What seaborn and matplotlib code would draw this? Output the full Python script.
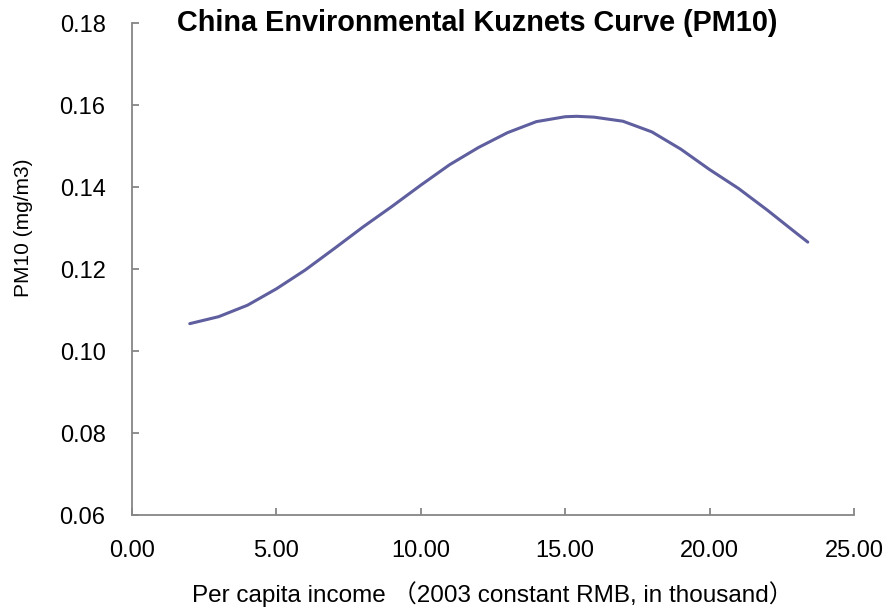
import numpy as np
import pandas as pd
import matplotlib
matplotlib.use('Agg')
import matplotlib.pyplot as plt
import seaborn as sns

# ── data ──
income = [2.0, 3.0, 4.0, 5.0, 6.0, 7.0, 8.0, 9.0, 10.0, 11.0, 12.0, 13.0,
          14.0, 15.0, 15.4, 16.0, 17.0, 18.0, 19.0, 20.0, 21.0, 22.0, 23.0, 23.4]
pm10 = [0.1067, 0.1084, 0.1112, 0.1152, 0.1198, 0.1250, 0.1303, 0.1353,
        0.1405, 0.1455, 0.1497, 0.1533, 0.1560, 0.1572, 0.1573, 0.1571,
        0.1561, 0.1535, 0.1493, 0.1443, 0.1397, 0.1344, 0.1288, 0.1266]
x_ticks = [0, 5, 10, 15, 20, 25]
y_ticks = [0.06, 0.08, 0.10, 0.12, 0.14, 0.16, 0.18]

df = pd.DataFrame({'income': income, 'pm10': pm10})

sns.set_style('ticks')
plt.rcParams['font.family'] = ['Liberation Sans', 'Noto Sans CJK SC', 'DejaVu Sans']
plt.rcParams['text.color'] = 'black'
plt.rcParams['axes.labelcolor'] = 'black'

fig = plt.figure(figsize=(8.83, 6.11), dpi=100)
ax = fig.add_axes([132 / 883, 1 - 515 / 611, 722 / 883, (515 - 23.3) / 611])

sns.lineplot(data=df, x='income', y='pm10', ax=ax, sort=False, estimator=None,
             color='#5F5F9F', linewidth=2.2)

ax.set_xlim(0, 25)
ax.set_ylim(0.06, 0.18)
ax.set_xticks(x_ticks)
ax.set_xticklabels([f'{v:.2f}' for v in x_ticks])
ax.set_yticks(y_ticks)
ax.set_yticklabels([f'{v:.2f}' for v in y_ticks])

for side in ['top', 'right']:
    ax.spines[side].set_visible(False)
for side in ['left', 'bottom']:
    ax.spines[side].set_color('#868686')
    ax.spines[side].set_linewidth(1.3)
ax.tick_params(axis='both', direction='in', length=5, width=1.3, color='#868686',
               labelsize=17, labelcolor='black')
ax.tick_params(axis='y', pad=19)
ax.tick_params(axis='x', pad=18)

ax.set_xlabel('Per capita income （2003 constant RMB, in thousand）', fontsize=17.5, va='center')
ax.xaxis.set_label_coords(0.5, -0.161)
ax.set_ylabel('PM10 (mg/m3)', fontsize=15, va='center')
ax.yaxis.set_label_coords(-0.15, 0.584)

ax.text(0.478, 1.0, 'China Environmental Kuznets Curve (PM10)', transform=ax.transAxes,
        ha='center', va='center', fontsize=20.8, fontweight='bold')

fig.savefig('out.png', dpi=100)
